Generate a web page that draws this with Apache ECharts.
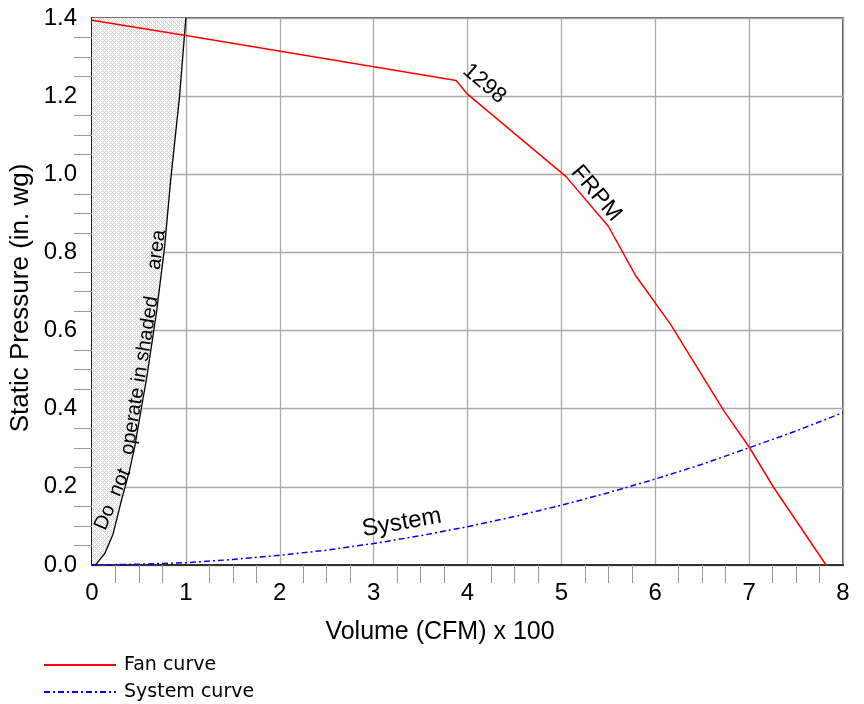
<!DOCTYPE html>
<html>
<head>
<meta charset="utf-8">
<script src="https://cdn.jsdelivr.net/npm/echarts@6/dist/echarts.min.js"></script>
<style>html,body{margin:0;padding:0;background:#fff;}#c{width:864px;height:704px;}</style>
</head>
<body>
<div id="c"></div>
<script>
// ---- data ----
var fanX = [0, 1, 3.88, 4.0, 5.05, 5.5, 5.79, 6.16, 6.73, 7.0, 7.26, 7.82];
var fanY = [1.394, 1.355, 1.24, 1.205, 0.994, 0.867, 0.741, 0.617, 0.395, 0.302, 0.199, 0];
var sysX = [0, 0.5, 1, 1.5, 2, 2.5, 3, 3.5, 4, 4.5, 5, 5.5, 6, 6.5, 7, 7.5, 8];
var sysY = [0, 0.002, 0.006, 0.014, 0.025, 0.038, 0.055, 0.075, 0.098, 0.124, 0.153, 0.185, 0.22, 0.258, 0.30, 0.343, 0.39];
var shadeX = [0, 0.04, 0.135, 0.224, 0.313, 0.40, 0.454, 0.54, 0.578, 0.685, 0.773, 0.838, 0.933, 1.0];
var shadeY = [0, 0.001, 0.029, 0.079, 0.165, 0.242, 0.301, 0.421, 0.472, 0.643, 0.813, 0.985, 1.2, 1.4];
var xTicks = [0, 1, 2, 3, 4, 5, 6, 7, 8];
var yTicks = [0, 0.2, 0.4, 0.6, 0.8, 1.0, 1.2, 1.4];
var seriesNames = ['Fan curve', 'System curve'];
var xTitle = 'Volume (CFM) x 100';
var yTitle = 'Static Pressure (in. wg)';
// annotations: text, anchor in data coords, rotation (deg)
var notes = [
  {text: '1298', at: [4.18, 1.232], rot: -40, size: 22},
  {text: 'FRPM', at: [5.37, 0.951], rot: -50, size: 23},
  {text: 'System', at: [3.30, 0.108], rot: 10, size: 24},
  {text: 'Do  not', at: [0.22, 0.168], rot: 67, size: 20},
  {text: 'operate in shaded', at: [0.51, 0.485], rot: 81, size: 20},
  {text: 'area', at: [0.69, 0.807], rot: 82, size: 20}
];

function zip(a, b) { return a.map(function (v, i) { return [v, b[i]]; }); }

// hatch pattern for the shaded area
var pat = document.createElement('canvas');
pat.width = 4; pat.height = 4;
var pc = pat.getContext('2d');
pc.fillStyle = '#fafafa'; pc.fillRect(0, 0, 4, 4);
pc.fillStyle = '#d2d2d2';
for (var i = 0; i < 4; i++) {
  for (var j = 0; j < 4; j++) {
    if ((i + j) % 4 === 0 || (i - j + 4) % 4 === 0) pc.fillRect(i, j, 1, 1);
  }
}

var FONT = 'Liberation Sans, Arial, sans-serif';
var chart = echarts.init(document.getElementById('c'), null, {renderer: 'canvas'});
var shadePts = zip(shadeX, shadeY);

var option = {
  animation: false,
  backgroundColor: '#fff',
  grid: {left: 92, right: 21, top: 18, bottom: 139, show: true, borderColor: '#222', borderWidth: 1.5, backgroundColor: 'transparent'},
  xAxis: {
    type: 'value', min: xTicks[0], max: xTicks[xTicks.length - 1], interval: 1,
    axisLine: {show: true, onZero: false, lineStyle: {color: '#333', width: 2}},
    axisTick: {show: false},
    minorTick: {show: true, splitNumber: 4, length: 18, lineStyle: {color: '#999', width: 1}},
    splitLine: {show: true, lineStyle: {color: '#aaa', width: 1.3}},
    axisLabel: {fontSize: 24, color: '#000', fontFamily: FONT, margin: 16}
  },
  yAxis: {
    type: 'value', min: yTicks[0], max: yTicks[yTicks.length - 1], interval: 0.2,
    axisLine: {show: true, onZero: false, lineStyle: {color: '#222', width: 2}},
    axisTick: {show: false},
    minorTick: {show: true, splitNumber: 4, length: 18, lineStyle: {color: '#999', width: 1}},
    splitLine: {show: true, lineStyle: {color: '#aaa', width: 1.3}},
    axisLabel: {fontSize: 24, color: '#000', fontFamily: FONT, margin: 15, formatter: function (v) { return v.toFixed(1); }}
  },
  legend: {
    orient: 'vertical', left: 43, top: 654, padding: 0, itemWidth: 72, itemHeight: 14, itemGap: 5,
    data: seriesNames,
    itemStyle: {opacity: 0},
    textStyle: {fontSize: 19, lineHeight: 22, color: '#000', fontFamily: 'DejaVu Sans, sans-serif', padding: [0, 0, 0, 3]}
  },
  series: [
    {
      type: 'custom', silent: true, clip: true, z: 1,
      data: [[0, 0]],
      renderItem: function (params, api) {
        var pts = [api.coord([0, 0])];
        shadePts.forEach(function (p) { pts.push(api.coord(p)); });
        pts.push(api.coord([0, shadeY[shadeY.length - 1]]));
        return {type: 'polygon', shape: {points: pts}, style: {fill: {image: pat, repeat: 'repeat'}, stroke: null}};
      }
    },
    {
      type: 'line', name: 'boundary', data: shadePts, symbol: 'none', silent: true, z: 3,
      lineStyle: {color: '#000', width: 1.3}
    },
    {
      type: 'line', name: seriesNames[0], data: zip(fanX, fanY), symbol: 'none', z: 4,
      lineStyle: {color: '#ff0000', width: 1.5}, itemStyle: {color: '#ff0000'}
    },
    {
      type: 'line', name: seriesNames[1], data: zip(sysX, sysY), symbol: 'none', z: 4,
      lineStyle: {color: '#0000ff', width: 1.5, type: [6, 3, 2, 3]}, itemStyle: {color: '#0000ff'}
    }
  ]
};
chart.setOption(option);

var gfx = [
  {type: 'text', x: 21, y: 298, rotation: Math.PI / 2, style: {text: yTitle, font: '26px ' + FONT, fill: '#000', align: 'center', verticalAlign: 'middle'}},
  {type: 'text', x: 440, y: 632, style: {text: xTitle, font: '25px ' + FONT, fill: '#000', align: 'center', verticalAlign: 'middle'}}
];
notes.forEach(function (n) {
  var p = chart.convertToPixel({gridIndex: 0}, n.at);
  gfx.push({type: 'text', x: p[0], y: p[1], rotation: n.rot * Math.PI / 180, z: 10,
    style: {text: n.text, font: n.size + 'px ' + FONT, fill: '#000', align: 'center', verticalAlign: 'middle'}});
});
chart.setOption({graphic: gfx});
</script>
</body>
</html>
